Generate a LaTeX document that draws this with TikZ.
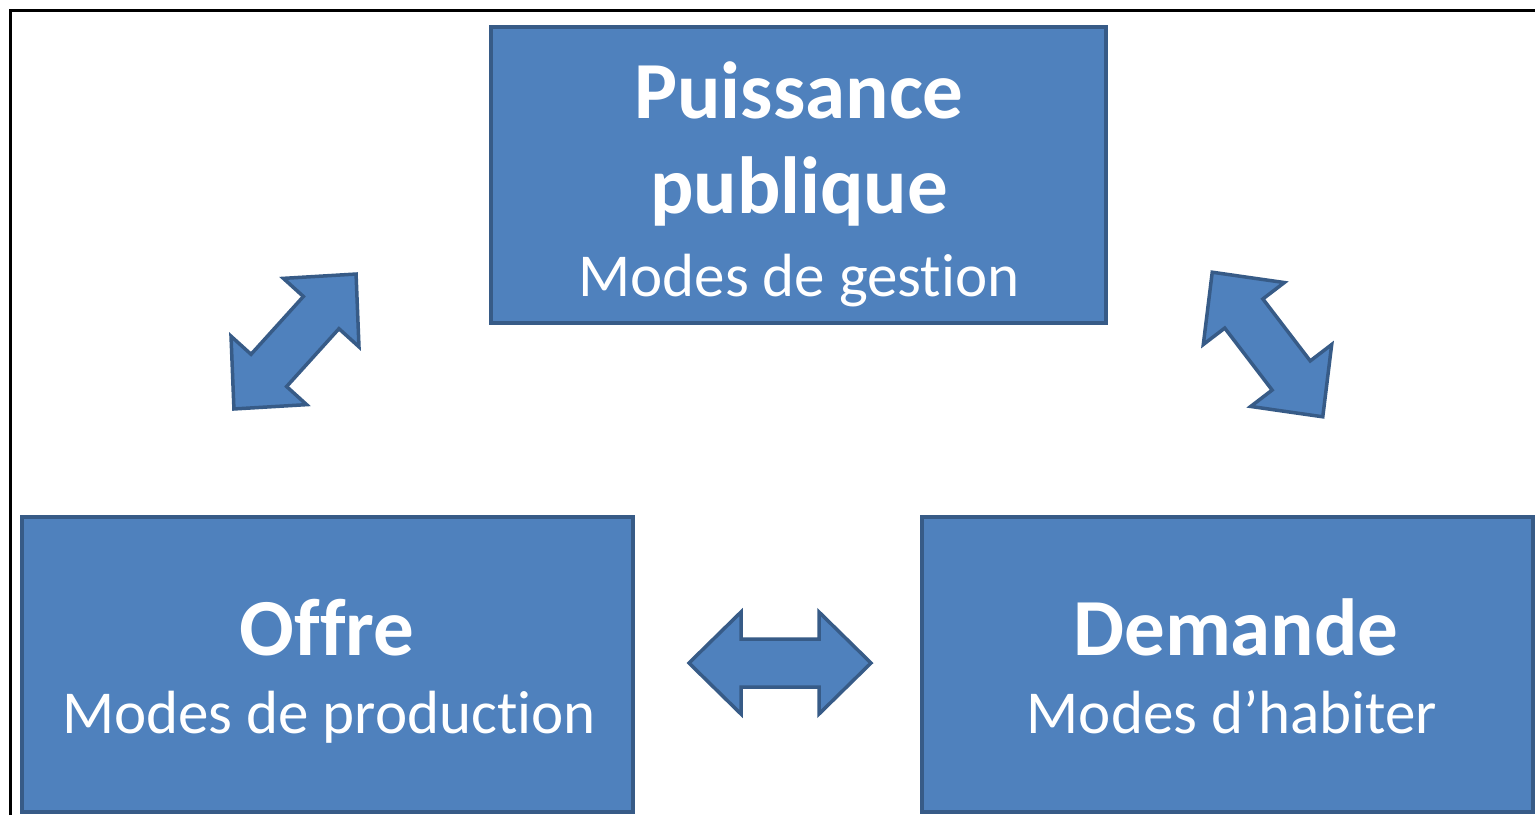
\documentclass[tikz,border=0pt]{standalone}
\usepackage{fontspec}
\setmainfont{Carlito}[Ligatures={NoCommon}]
\definecolor{boxfill}{HTML}{4F81BD}
\definecolor{boxline}{HTML}{375B87}
\tikzset{
  block/.style={draw=boxline, line width=3.2pt, fill=boxfill, inner sep=0pt},
  title/.style={anchor=base, text=white, inner sep=0pt,
    font=\bfseries\fontsize{81}{97}\selectfont},
  subtitle/.style={anchor=base, text=white, inner sep=0pt,
    font=\fontsize{61}{73}\selectfont},
  blockarrow/.style={draw=boxline, line width=3.5pt, fill=boxfill, line join=miter},
  pics/dblarrow/.style={code={
    \draw[blockarrow] (-91,0) -- (-39,-51) -- (-39,-24) -- (39,-24) -- (39,-51)
      -- (91,0) -- (39,51) -- (39,24) -- (-39,24) -- (-39,51) -- cycle;}},
}
\begin{document}
\begin{tikzpicture}[x=1pt, y=-1pt]
  \useasboundingbox (0,0) rectangle (1535,815);
  \fill[white] (0,0) rectangle (1535,815);
  % frame
  \draw[line width=3pt, black] (10.5,815) -- (10.5,10.5) -- (1535,10.5);

  % boxes
  \node[block, minimum width=615pt, minimum height=296pt] (pub) at (798.5,175) {};
  \node[block, minimum width=611pt, minimum height=295pt] (offre) at (327.5,664.5) {};
  \node[block, minimum width=611pt, minimum height=295pt] (dem) at (1227.5,664.5) {};

  % texts
  \node[title] (pubA) at (799,118) {Puissance};
  \node[title] (pubB) at (799,213) {publique};
  \node[subtitle] (pubC) at (799,296) {Modes de gestion};

  \node[title] (offA) at (327,655) {Offre};
  \node[subtitle] (offB) at (329,733) {Modes de production};

  \node[title] (demA) at (1236,655) {Demande};
  \node[subtitle] (demB) at (1232,733) {Modes d’habiter};

  % double block arrows
  \pic (arrL) [rotate=47.85] at (295,341.5) {dblarrow};
  \pic (arrR) [rotate=-52.6] at (1267.5,344.5) {dblarrow};
  \pic (arrH) at (780,663) {dblarrow};
\end{tikzpicture}
\end{document}
